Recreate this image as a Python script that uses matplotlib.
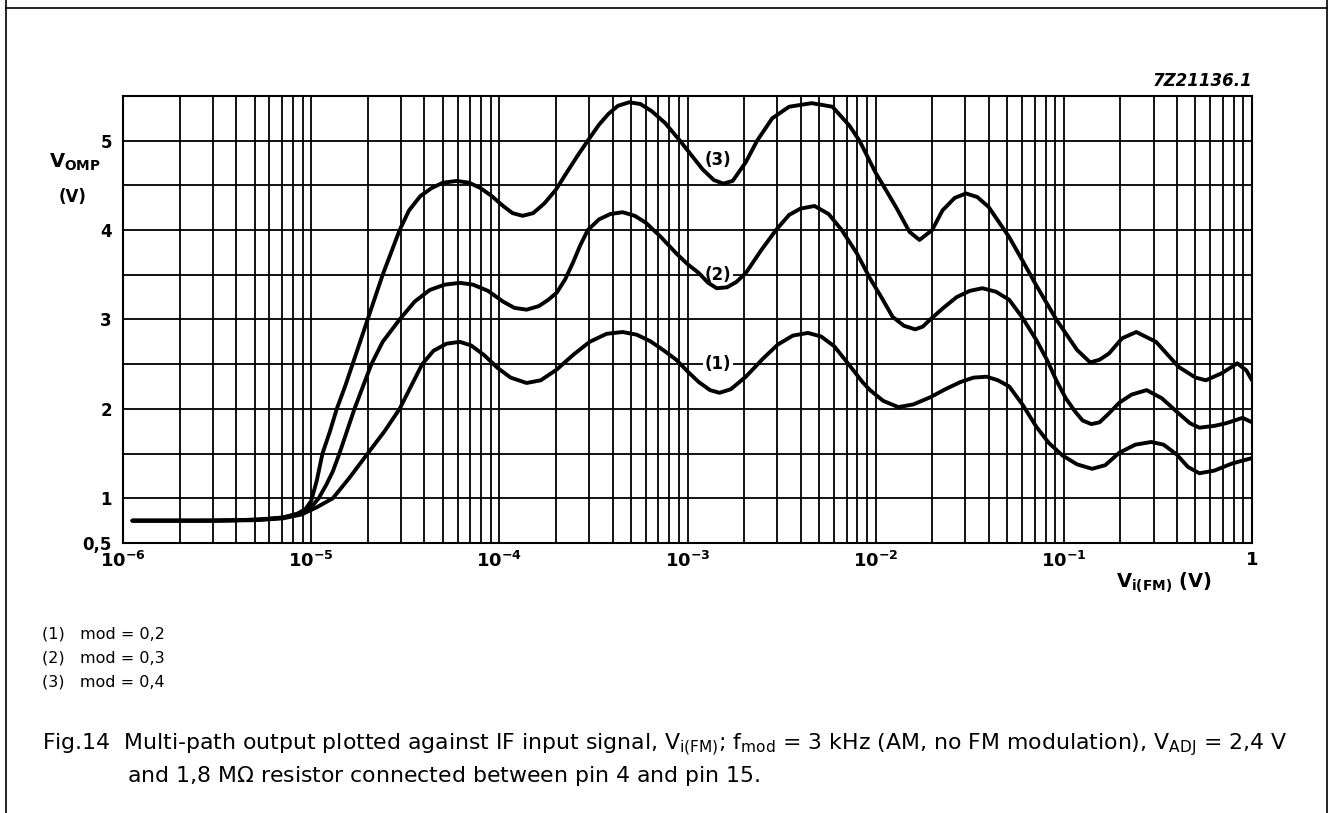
import numpy as np
import matplotlib.pyplot as plt
from matplotlib.ticker import FixedLocator, LogLocator, NullFormatter
from matplotlib.lines import Line2D

plt.rcParams['font.family'] = ['DejaVu Sans']
plt.rcParams['mathtext.fontset'] = 'dejavusans'

# curve data: exponent of V_i(FM) (log10 V) and V_OMP (V)
exp_mod02 = [-5.95, -5.5, -5.3, -5.15, -5.05, -4.97, -4.885, -4.80, -4.70, -4.61, -4.53,
             -4.47, -4.41, -4.35, -4.28, -4.21, -4.15, -4.08, -4.01, -3.94, -3.855,
             -3.78, -3.695, -3.61, -3.52, -3.43, -3.345, -3.27, -3.20, -3.13, -3.06,
             -3.0, -2.94, -2.88, -2.83, -2.77, -2.69, -2.60, -2.52, -2.44, -2.36,
             -2.29, -2.22, -2.14, -2.07, -2.03, -1.96, -1.88, -1.80, -1.71, -1.63,
             -1.55, -1.48, -1.41, -1.35, -1.29, -1.22, -1.146, -1.08, -1.008, -0.93,
             -0.85, -0.78, -0.705, -0.62, -0.535, -0.47, -0.40, -0.34, -0.28, -0.20,
             -0.105, 0.0]
v_mod02 = [0.75, 0.75, 0.755, 0.775, 0.82, 0.9, 1.0, 1.22, 1.5, 1.75, 2.0,
           2.25, 2.5, 2.65, 2.73, 2.75, 2.71, 2.6, 2.46, 2.35, 2.29,
           2.32, 2.44, 2.6, 2.75, 2.84, 2.86, 2.83, 2.76, 2.66, 2.55,
           2.42, 2.3, 2.21, 2.18, 2.22, 2.36, 2.56, 2.72, 2.82, 2.85,
           2.81, 2.70, 2.49, 2.3, 2.21, 2.09, 2.02, 2.05, 2.13, 2.22,
           2.30, 2.35, 2.36, 2.32, 2.25, 2.05, 1.80, 1.62, 1.48, 1.38,
           1.33, 1.37, 1.51, 1.60, 1.63, 1.60, 1.49, 1.35, 1.28, 1.31,
           1.39, 1.45]

exp_mod03 = [-5.95, -5.5, -5.3, -5.15, -5.05, -5.0, -4.96, -4.92, -4.885, -4.85, -4.81,
             -4.77, -4.725, -4.68, -4.62, -4.53, -4.45, -4.37, -4.29, -4.21, -4.14,
             -4.06, -3.98, -3.92, -3.855, -3.79, -3.74, -3.695, -3.65, -3.61, -3.57,
             -3.53, -3.47, -3.41, -3.345, -3.28, -3.22, -3.14, -3.06, -3.0, -2.94,
             -2.89, -2.845, -2.79, -2.74, -2.69, -2.61, -2.53, -2.46, -2.40, -2.325,
             -2.25, -2.18, -2.10, -2.03, -1.97, -1.91, -1.85, -1.79, -1.75, -1.71,
             -1.64, -1.57, -1.50, -1.433, -1.36, -1.29, -1.22, -1.146, -1.09, -1.04,
             -0.99, -0.94, -0.90, -0.854, -0.81, -0.76, -0.705, -0.64, -0.56, -0.48,
             -0.39, -0.33, -0.28, -0.20, -0.137, -0.05, 0.0]
v_mod03 = [0.75, 0.75, 0.76, 0.785, 0.84, 0.9, 1.0, 1.15, 1.3, 1.5, 1.75,
           2.0, 2.25, 2.5, 2.75, 3.0, 3.2, 3.33, 3.39, 3.41, 3.39,
           3.32, 3.2, 3.13, 3.11, 3.15, 3.22, 3.30, 3.45, 3.63, 3.83,
           4.0, 4.12, 4.18, 4.20, 4.16, 4.08, 3.92, 3.74, 3.62, 3.52,
           3.41, 3.35, 3.36, 3.42, 3.52, 3.77, 4.0, 4.17, 4.24, 4.27,
           4.18, 4.0, 3.74, 3.46, 3.25, 3.03, 2.93, 2.89, 2.92, 3.0,
           3.13, 3.25, 3.32, 3.35, 3.31, 3.22, 3.02, 2.77, 2.55, 2.32,
           2.12, 1.97, 1.87, 1.83, 1.85, 1.95, 2.07, 2.16, 2.21, 2.12,
           1.95, 1.84, 1.79, 1.81, 1.84, 1.90, 1.85]

exp_mod04 = [-5.95, -5.6, -5.4, -5.25, -5.15, -5.08, -5.03, -5.0, -4.97, -4.94, -4.90,
             -4.864, -4.82, -4.78, -4.74, -4.70, -4.66, -4.62, -4.575, -4.53, -4.48,
             -4.42, -4.36, -4.30, -4.226, -4.16, -4.10, -4.04, -3.98, -3.93, -3.876,
             -3.82, -3.76, -3.70, -3.64, -3.585, -3.53, -3.47, -3.42, -3.37, -3.31,
             -3.25, -3.19, -3.12, -3.04, -2.98, -2.92, -2.86, -2.81, -2.76, -2.69,
             -2.63, -2.55, -2.46, -2.34, -2.23, -2.14, -2.086, -2.0, -1.96, -1.89,
             -1.82, -1.767, -1.70, -1.645, -1.58, -1.52, -1.46, -1.40, -1.29, -1.22,
             -1.146, -1.04, -0.93, -0.86, -0.81, -0.76, -0.69, -0.615, -0.51, -0.39,
             -0.30, -0.245, -0.16, -0.078, -0.03, 0.0]
v_mod04 = [0.75, 0.75, 0.755, 0.765, 0.785, 0.82, 0.88, 0.97, 1.2, 1.5, 1.75,
           2.0, 2.25, 2.5, 2.75, 3.0, 3.25, 3.5, 3.75, 4.0, 4.22,
           4.38, 4.47, 4.53, 4.55, 4.53, 4.47, 4.38, 4.27, 4.19, 4.16,
           4.19, 4.3, 4.45, 4.65, 4.83, 5.0, 5.18, 5.30, 5.39, 5.43,
           5.41, 5.33, 5.20, 5.0, 4.84, 4.68, 4.56, 4.52, 4.55, 4.76,
           5.0, 5.25, 5.38, 5.42, 5.38, 5.17, 5.0, 4.64, 4.5, 4.25,
           3.98, 3.89, 4.0, 4.22, 4.36, 4.41, 4.37, 4.26, 3.92, 3.66,
           3.38, 3.0, 2.66, 2.52, 2.55, 2.62, 2.79, 2.86, 2.75, 2.47,
           2.35, 2.32, 2.40, 2.51, 2.43, 2.32]

curve_labels = ['(1)', '(2)', '(3)']
label_x = [1.45e-3, 1.45e-3, 1.45e-3]
label_y = [2.5, 3.5, 4.78]

x_ticks = [1e-6, 1e-5, 1e-4, 1e-3, 1e-2, 1e-1, 1]
x_ticklabels = [r'$\mathbf{10^{-6}}$', r'$\mathbf{10^{-5}}$', r'$\mathbf{10^{-4}}$',
                r'$\mathbf{10^{-3}}$', r'$\mathbf{10^{-2}}$', r'$\mathbf{10^{-1}}$', '1']
y_ticks = [0.5, 1, 2, 3, 4, 5]
y_ticklabels = ['0,5', '1', '2', '3', '4', '5']
y_minor = [1.5, 2.5, 3.5, 4.5, 5.5]

legend_lines = ['(1)   mod = 0,2', '(2)   mod = 0,3', '(3)   mod = 0,4']

W, H = 1329, 813
def fx(px):
    return px / W
def fy(py):
    return 1 - py / H

fig = plt.figure(figsize=(W / 100, H / 100), dpi=100)
ax = fig.add_axes([fx(123), fy(543), fx(1252) - fx(123), fy(96) - fy(543)])

for e, v in [(exp_mod02, v_mod02), (exp_mod03, v_mod03), (exp_mod04, v_mod04)]:
    ax.plot(10.0 ** np.array(e), v, color='black', lw=2.8,
            solid_joinstyle='round', solid_capstyle='round', zorder=3)

# labels hide the grid behind them but stay under the curves
for t, lx, ly in zip(curve_labels, label_x, label_y):
    ax.text(lx, ly, t, ha='center', va='center', fontsize=12, fontweight='bold',
            bbox=dict(facecolor='white', edgecolor='none', pad=1.5), zorder=2.8)

ax.set_xscale('log')
ax.set_xlim(1e-6, 1)
ax.set_ylim(0.5, 5.5)
ax.xaxis.set_major_locator(FixedLocator(x_ticks))
ax.set_xticklabels(x_ticklabels)
ax.xaxis.set_minor_locator(LogLocator(base=10, subs=np.arange(2, 10), numticks=30))
ax.xaxis.set_minor_formatter(NullFormatter())
ax.set_yticks(y_ticks)
ax.set_yticklabels(y_ticklabels)
ax.yaxis.set_minor_locator(FixedLocator(y_minor))
ax.grid(which='both', color='black', lw=1.3)
ax.tick_params(which='both', length=0)
ax.tick_params(axis='y', pad=8, labelsize=12)
ax.tick_params(axis='x', pad=6, labelsize=13)
for lab in ax.get_yticklabels() + ax.get_xticklabels():
    lab.set_fontweight('bold')
for s in ax.spines.values():
    s.set_linewidth(1.5)

# axis captions
fig.text(fx(75), fy(162), r'$\mathbf{V_{OMP}}$', ha='center', va='center', fontsize=14)
fig.text(fx(73), fy(197), '(V)', ha='center', va='center', fontsize=12, fontweight='bold')
fig.text(fx(1164), fy(583), r'$\mathbf{V_{i(FM)}\ (V)}$', ha='center', va='center', fontsize=14)
fig.text(fx(1252), fy(81), '7Z21136.1', ha='right', va='center', fontsize=12,
         fontweight='bold', fontstyle='italic')

# notes under the chart
for i, t in enumerate(legend_lines):
    fig.text(fx(42), fy(634 + 24 * i), t, ha='left', va='center', fontsize=11.5)

fig.text(fx(42), fy(745), r'Fig.14  Multi-path output plotted against IF input signal, V$_{\mathregular{i(FM)}}$; '
         r'f$_{\mathregular{mod}}$ = 3 kHz (AM, no FM modulation), V$_{\mathregular{ADJ}}$ = 2,4 V',
         ha='left', va='center', fontsize=15.8)
fig.text(fx(127), fy(776), r'and 1,8 M$\Omega$ resistor connected between pin 4 and pin 15.',
         ha='left', va='center', fontsize=15.8)

# page frame
for xs, ys in [([6, 6], [0, H]), ([6, 1327], [8, 8]), ([1327, 1327], [0, H])]:
    fig.add_artist(Line2D([fx(x) for x in xs], [fy(y) for y in ys], color='black', lw=1.2))

fig.savefig('out.png', dpi=100, facecolor='white')
